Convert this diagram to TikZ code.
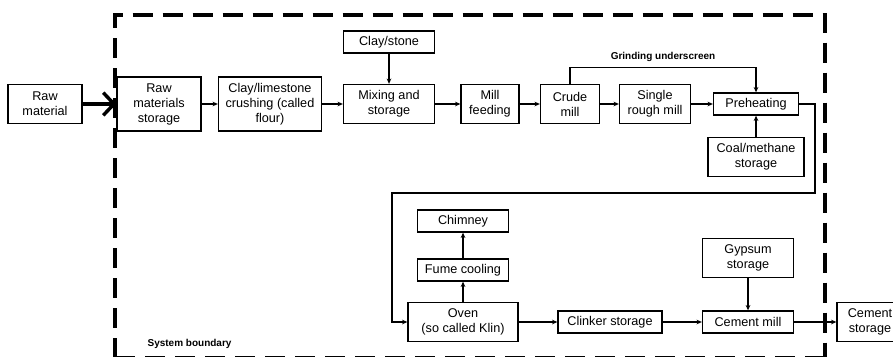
\documentclass[tikz,border=0pt]{standalone}
\usepackage{fontspec}
\setmainfont{Liberation Sans}
\usetikzlibrary{positioning}
\usetikzlibrary{arrows.meta}
\tikzset{procbox/.style={draw, line width=1pt, align=center, inner sep=1pt,
font=\fontsize{9.5}{11.25}\selectfont},
sz/.style 2 args={minimum width=#1*0.75pt, minimum height=#2*0.75pt},
flow/.style={line width=0.9pt, -{Stealth[length=4pt, width=3.5pt]}},
bigflow/.style={line width=3.2pt, -{Straight Barb[length=8pt, width=17pt, line width=2.6pt]}},
note/.style={font=\bfseries\fontsize{7.5}{9}\selectfont, inner sep=1pt}}

\begin{document}
\begin{tikzpicture}[x=0.75pt, y=-0.75pt, boundary/.style={line width=2.3pt, dash pattern=on 15pt off 7.5pt}]

				\useasboundingbox (0,0) rectangle (893,357);
				% system boundary
				\draw[boundary] (115,357.5) -- (115,15) -- (825,15) -- (825,357.5);
				\draw[boundary] (115,357.5) -- (825,357.5);
				% first row
				\node[procbox, sz={74}{39}] (raw) at (45,104) {Raw\\material};
				\node[procbox, sz={84}{54}] (stock) at (159,104) {Raw\\materials\\storage};
				\node[procbox, sz={103}{54}] (crush) at (270,104) {Clay/limestone\\crushing (called\\flour)};
				\node[procbox, sz={91}{39}] (mix) at (389,104) {Mixing and\\storage};
				\node[procbox, sz={91}{22}] (clay) at (389,42) {Clay/stone};
				\node[procbox, sz={58}{39}] (feed) at (490,104) {Mill\\feeding};
				\node[procbox, sz={59}{39}] (crude) at (570,104) {Crude\\mill};
				\node[procbox, sz={71}{39}] (rough) at (655,104) {Single\\rough mill};
				\node[procbox, sz={85}{22}] (preheat) at (756,104) {Preheating};
				\node[procbox, sz={96}{39}] (coal) at (756,157) {Coal/methane\\storage};
				% second row
				\node[procbox, sz={110}{39}] (oven) at (463,322) {Oven\\(so called Klin)};
				\node[procbox, sz={91}{22}] (fume) at (463,270) {Fume cooling};
				\node[procbox, sz={91}{22}] (chimney) at (463,221) {Chimney};
				\node[procbox, sz={104}{22}] (clinker) at (610,322) {Clinker storage};
				\node[procbox, sz={91}{22}] (cmill) at (748,322) {Cement mill};
				\node[procbox, sz={91}{39}] (gypsum) at (748,258) {Gypsum\\storage};
				\node[procbox, sz={66}{39}] (cstore) at (870,322) {Cement\\storage};
				\coordinate (turnR) at (815,193);
				\coordinate (turnL) at (392,193);

				\draw[bigflow] (raw) -- (stock);
				\draw[flow] (stock) -- (crush);
				\draw[flow] (crush) -- (mix);
				\draw[flow] (clay) -- (mix);
				\draw[flow] (mix) -- (feed);
				\draw[flow] (feed) -- (crude);
				\draw[flow] (crude) -- (rough);
				\draw[flow] (rough) -- (preheat);
				\draw[flow] (coal) -- (preheat);
				\draw[flow] (crude.north) -- ++(0,-16) coordinate (skip) -| node[note, pos=0.25, above=3pt] {Grinding underscreen} (preheat.north);
				\draw[flow] (preheat.east) -| (turnR) -- (turnL) |- (oven.west);
				\draw[flow] (oven) -- (fume);
				\draw[flow] (fume) -- (chimney);
				\draw[flow] (oven) -- (clinker);
				\draw[flow] (clinker) -- (cmill);
				\draw[flow] (gypsum) -- (cmill);
				\draw[flow] (cmill) -- (cstore);
				\node[note, anchor=west] (sysb) at (146,344) {System boundary};
			\end{tikzpicture}
\end{document}
